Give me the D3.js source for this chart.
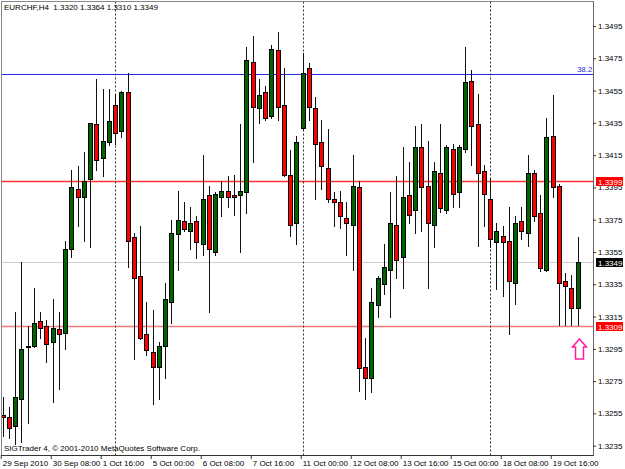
<!DOCTYPE html>
<html>
<head>
<meta charset="utf-8">
<script src="https://cdn.jsdelivr.net/npm/d3@7"></script>
<style>
body { margin: 0; background: #fff; }
svg { display: block; }
text { font-family: "Liberation Sans", Arial, sans-serif; font-size: 8px; fill: #000; }
</style>
</head>
<body>
<div id="chart"></div>
<script>
// chart data (EURCHF H4)
var symbol = "EURCHF,H4";
var days = ["29 Sep", "30 Sep", "1 Oct", "4 Oct", "5 Oct", "6 Oct", "7 Oct", "8 Oct",
            "11 Oct", "12 Oct", "13 Oct", "14 Oct", "15 Oct", "18 Oct", "19 Oct", "20 Oct"];
var hours = ["00:00", "04:00", "08:00", "12:00", "16:00", "20:00"];

var opens = [1.3254,1.3253,1.3247,1.3264,1.3297,1.3297,1.3312,1.3309,1.3299,1.3307,
             1.3305,1.3357,1.3394,1.3389,1.3400,1.3434,1.3413,1.3423,1.3446,1.3430,
             1.3454,1.3364,1.3340,1.3304,1.3293,1.3284,1.3297,1.3324,1.3366,1.3374,
             1.3368,1.3374,1.3360,1.3390,1.3355,1.3389,1.3393,1.3390,1.3390,1.3392,
             1.3473,1.3444,1.3454,1.3439,1.3480,1.3446,1.3403,1.3373,1.3432,1.3469,
             1.3444,1.3423,1.3407,1.3388,1.3386,1.3376,1.3372,1.3395,1.3284,1.3277,
             1.3322,1.3335,1.3344,1.3372,1.3352,1.3390,1.3381,1.3420,1.3396,1.3372,
             1.3404,1.3381,1.3419,1.3392,1.3419,1.3461,1.3434,1.3405,1.3388,1.3361,
             1.3365,1.3362,1.3336,1.3374,1.3367,1.3404,1.3379,1.3344,1.3427,1.3396,
             1.3337,1.3333,1.3320];
var highs = [1.3265,1.3259,1.3318,1.3349,1.3309,1.3333,1.3318,1.3313,1.3326,1.3318,
             1.3362,1.3406,1.3408,1.3417,1.3435,1.3462,1.3456,1.3456,1.3453,1.3455,
             1.3466,1.3367,1.3371,1.3324,1.3319,1.3299,1.3336,1.3375,1.3393,1.3386,
             1.3383,1.3377,1.3415,1.3396,1.3392,1.3399,1.3402,1.3403,1.3434,1.3482,
             1.3489,1.3462,1.3458,1.3483,1.3491,1.3469,1.3418,1.3427,1.3478,1.3472,
             1.3451,1.3437,1.3431,1.3392,1.3393,1.3386,1.3415,1.3399,1.3302,1.3333,
             1.3340,1.3360,1.3392,1.3402,1.3420,1.3411,1.3433,1.3434,1.3424,1.3411,
             1.3434,1.3421,1.3422,1.3421,1.3482,1.3468,1.3453,1.3409,1.3400,1.3373,
             1.3371,1.3383,1.3377,1.3383,1.3415,1.3406,1.3390,1.3438,1.3452,1.3397,
             1.3342,1.3341,1.3364];
var lows = [1.3241,1.3240,1.3236,1.3237,1.3249,1.3296,1.3302,1.3287,1.3262,1.3270,
            1.3295,1.3352,1.3371,1.3362,1.3358,1.3406,1.3402,1.3421,1.3422,1.3426,
            1.3346,1.3289,1.3301,1.3291,1.3261,1.3264,1.3277,1.3311,1.3344,1.3368,
            1.3357,1.3351,1.3353,1.3318,1.3353,1.3377,1.3383,1.3378,1.3355,1.3379,
            1.3411,1.3435,1.3437,1.3438,1.3437,1.3402,1.3365,1.3360,1.3431,1.3437,
            1.3388,1.3394,1.3386,1.3371,1.3370,1.3353,1.3344,1.3269,1.3264,1.3268,
            1.3315,1.3329,1.3315,1.3339,1.3333,1.3373,1.3367,1.3368,1.3333,1.3358,
            1.3380,1.3379,1.3383,1.3383,1.3417,1.3409,1.3359,1.3371,1.3358,1.3332,
            1.3328,1.3304,1.3323,1.3363,1.3359,1.3374,1.3343,1.3343,1.3389,1.3310,
            1.3310,1.3310,1.3310];
var closes = [1.3253,1.3246,1.3265,1.3295,1.3296,1.3311,1.3308,1.3298,1.3308,1.3304,
              1.3357,1.3395,1.3389,1.3399,1.3435,1.3412,1.3424,1.3436,1.3429,1.3454,
              1.3362,1.3339,1.3302,1.3294,1.3284,1.3297,1.3326,1.3367,1.3375,1.3369,
              1.3373,1.3361,1.3388,1.3357,1.3391,1.3393,1.3389,1.3389,1.3393,1.3474,
              1.3445,1.3452,1.3438,1.3481,1.3445,1.3403,1.3372,1.3423,1.3466,1.3445,
              1.3422,1.3408,1.3388,1.3386,1.3377,1.3373,1.3396,1.3283,1.3277,1.3324,
              1.3339,1.3346,1.3373,1.3350,1.3389,1.3378,1.3420,1.3395,1.3373,1.3405,
              1.3382,1.3420,1.3391,1.3420,1.3460,1.3433,1.3404,1.3391,1.3363,1.3368,
              1.3361,1.3337,1.3373,1.3368,1.3404,1.3377,1.3345,1.3426,1.3395,1.3336,
              1.3334,1.3320,1.3349];

var priceTicks = [1.3235,1.3255,1.3275,1.3295,1.3315,1.3335,1.3355,1.3375,
                  1.3395,1.3415,1.3435,1.3455,1.3475,1.3495];
var labelIndex = [0,8,16,24,32,40,48,56,64,72,80,88];
var separators = [18, 48, 78];
var levels = [1.3399, 1.3349, 1.3309];
var levelColors = ["#ff3030", "#cfcfcf", "#f27a7a"];
var tagColors = ["#ff0000", "#000000", "#ff0000"];
var fiboLevel = 1.3465;
var fiboLabel = "38.2";
var arrowPrice = 1.3301;

function drawChart() {
    // build bars
    var bars = [];
    days.forEach(function(d) {
        hours.forEach(function(h) {
            if (bars.length < opens.length) bars.push(d + " " + h);
        });
    });
    var data = opens.map(function(o, i) {
        return {i: i, t: bars[i], o: o, h: highs[i], l: lows[i], c: closes[i]};
    });

    var svgWidth = 625, svgHeight = 469;
    var pLeft = 1.5, pTop = 1.5, pRight = 593.5, pBottom = 455.5;

    var svg = d3.select("#chart").append("svg")
        .attr("width", svgWidth)
        .attr("height", svgHeight);

    var x = d3.scaleBand()
        .domain(d3.range(data.length))
        .range([-0.4, -0.4 + data.length * 6.25])
        .padding(0);
    var y = d3.scaleLinear()
        .domain([1.3235, 1.3495])
        .range([445.7, 26]);

    function cx(i) { return Math.round(x(i) + x.bandwidth() / 2); }

    svg.append("clipPath").attr("id", "plot")
      .append("rect")
        .attr("x", pLeft).attr("y", pTop)
        .attr("width", pRight - pLeft).attr("height", pBottom - pTop);

    var plot = svg.append("g").attr("clip-path", "url(#plot)");

    // horizontal levels
    plot.selectAll(".level")
        .data(levels)
        .enter().append("line")
        .attr("class", "level")
        .attr("x1", pLeft).attr("x2", pRight)
        .attr("y1", d => Math.round(y(d)) + 0.5)
        .attr("y2", d => Math.round(y(d)) + 0.5)
        .attr("stroke", (d, i) => levelColors[i])
        .attr("stroke-width", (d, i) => i == 1 ? 1 : 1.6);

    // fibo level
    plot.append("line")
        .attr("x1", pLeft).attr("x2", pRight)
        .attr("y1", Math.round(y(fiboLevel)) + 0.5)
        .attr("y2", Math.round(y(fiboLevel)) + 0.5)
        .attr("stroke", "#2828e6");
    svg.append("text")
        .attr("x", pRight - 1)
        .attr("y", Math.round(y(fiboLevel)) - 2)
        .attr("text-anchor", "end")
        .style("fill", "#2828e6")
        .text(fiboLabel);

    // week separators
    plot.selectAll(".sep")
        .data(separators)
        .enter().append("line")
        .attr("class", "sep")
        .attr("x1", d => cx(d) + 0.5).attr("x2", d => cx(d) + 0.5)
        .attr("y1", pTop).attr("y2", pBottom)
        .attr("stroke", "#333")
        .attr("stroke-dasharray", "2,2");

    // candles
    var candle = plot.selectAll(".candle")
        .data(data)
        .enter().append("g")
        .attr("class", "candle");

    candle.append("line")
        .attr("x1", d => cx(d.i) + 0.5).attr("x2", d => cx(d.i) + 0.5)
        .attr("y1", d => Math.round(y(d.h)))
        .attr("y2", d => Math.round(y(d.l)) + 1)
        .attr("stroke", "#111");

    candle.append("rect")
        .attr("x", d => cx(d.i) - 1.5)
        .attr("width", 4)
        .attr("y", d => Math.round(y(Math.max(d.o, d.c))) + 0.5)
        .attr("height", d => Math.max(0, Math.round(y(Math.min(d.o, d.c))) - Math.round(y(Math.max(d.o, d.c)))))
        .attr("fill", d => d.c >= d.o ? "#006400" : "#ff0000")
        .attr("stroke", "#000");

    // frame
    svg.append("rect")
        .attr("x", pLeft).attr("y", pTop)
        .attr("width", pRight - pLeft).attr("height", pBottom - pTop)
        .attr("fill", "none")
        .attr("stroke", "#888");
    svg.append("line")
        .attr("x1", pLeft).attr("x2", pRight + 0.5)
        .attr("y1", pBottom).attr("y2", pBottom)
        .attr("stroke", "#333");
    svg.append("line")
        .attr("x1", pRight).attr("x2", pRight)
        .attr("y1", pTop).attr("y2", pBottom)
        .attr("stroke", "#666");

    // price axis
    var yAxis = svg.append("g")
        .attr("transform", `translate(${pRight - 0.5}, 0)`)
        .call(d3.axisRight(y).tickValues(priceTicks).tickSize(3).tickFormat(d3.format(".4f")));
    yAxis.select(".domain").remove();
    yAxis.selectAll("text").attr("x", 5).style("font-size", "8px").style("font-family", null);
    yAxis.selectAll("line").attr("stroke", "#333");

    // time axis
    var xAxis = svg.append("g")
        .attr("transform", `translate(-1.5, ${pBottom - 0.5})`)
        .call(d3.axisBottom(x).tickValues(labelIndex).tickSize(4)
            .tickFormat(i => i == 0 ? "29 Sep 2010" : bars[i]));
    xAxis.select(".domain").remove();
    xAxis.selectAll("text")
        .attr("text-anchor", "start")
        .attr("x", 1.5)
        .attr("y", 5)
        .style("font-size", "8px").style("font-family", null);
    xAxis.selectAll("line").attr("stroke", "#333");

    // price tags
    var tags = svg.selectAll(".tag")
        .data(levels)
        .enter().append("g")
        .attr("class", "tag");
    tags.append("rect")
        .attr("x", 596).attr("width", 27)
        .attr("y", d => Math.round(y(d)) - 4)
        .attr("height", 9)
        .attr("fill", (d, i) => tagColors[i]);
    tags.append("text")
        .attr("x", 598)
        .attr("y", d => Math.round(y(d)) + 3.5)
        .style("fill", "#fff")
        .text(d => d.toFixed(4));

    // arrow mark
    var ax = cx(data.length - 1) + 1.5, ay = Math.round(y(arrowPrice));
    svg.append("path")
        .attr("d", `M${ax},${ay} L${ax + 7},${ay + 8} L${ax + 4},${ay + 8} L${ax + 4},${ay + 20}
                    L${ax - 4},${ay + 20} L${ax - 4},${ay + 8} L${ax - 7},${ay + 8} Z`)
        .attr("fill", "#fff")
        .attr("stroke", "#ff1ea5")
        .attr("stroke-width", 1.5);

    // header and copyright
    var last = data[data.length - 1];
    svg.append("text")
        .attr("x", 4).attr("y", 10)
        .attr("xml:space", "preserve")
        .text(symbol + "  " + [last.o, last.h, last.l, last.c].map(v => v.toFixed(4)).join(" "));
    svg.append("text")
        .attr("x", 4).attr("y", 451)
        .text("SIGTrader 4, \u00a9 2001-2010 MetaQuotes Software Corp.");
}
drawChart();
</script>
</body>
</html>
